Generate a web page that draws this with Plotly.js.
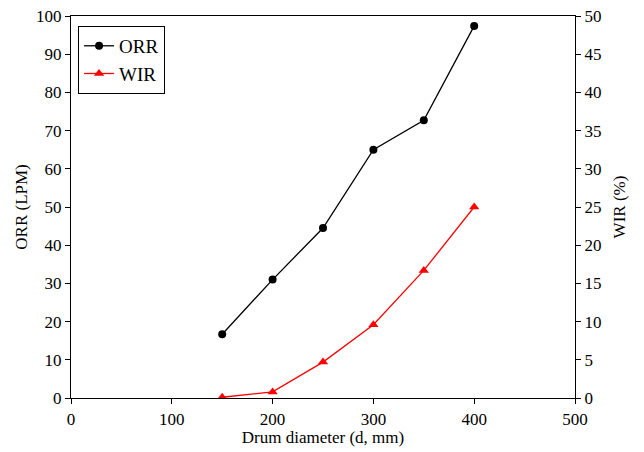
<!DOCTYPE html>
<html><head><meta charset="utf-8">
<script src="https://cdn.plot.ly/plotly-3.0.1.min.js"></script>
<style>html,body{margin:0;padding:0;background:#fff}#c{width:644px;height:452px}</style>
</head><body><div id="c"></div>
<script>
const diameter = [150, 200, 250, 300, 350, 400];
const orr = [16.7, 31.0, 44.5, 65.0, 72.7, 97.4];
const wir = [0.1, 0.8, 4.7, 9.6, 16.7, 25.0];

const font = {family: 'Liberation Serif', size: 17, color: '#000'};
const data = [
  {x: diameter, y: orr, name: 'ORR', mode: 'lines+markers', type: 'scatter',
   line: {color: '#000', width: 1.3}, marker: {symbol: 'circle', size: 8, color: '#000'}},
  {x: diameter, y: wir, name: 'WIR', mode: 'lines+markers', type: 'scatter', yaxis: 'y2',
   line: {color: '#ff0000', width: 1.3}, marker: {symbol: 'triangle-up', size: 9, color: '#ff0000'}}
];
const layout = {
  width: 644, height: 452,
  margin: {l: 71, r: 69, t: 16, b: 54},
  paper_bgcolor: '#fff', plot_bgcolor: '#fff',
  font: font,
  showlegend: true,
  legend: {x: 0.014, y: 0.974, xanchor: 'left', yanchor: 'top', bgcolor: '#fff',
           bordercolor: '#000', borderwidth: 1, itemwidth: 30,
           font: {family: font.family, size: 19, color: '#000'}, tracegroupgap: 0},
  xaxis: {range: [0, 500], dtick: 100, ticks: 'outside', ticklen: 5, tickcolor: '#000',
          showline: true, linecolor: '#000', linewidth: 1.2, mirror: true, showgrid: false, zeroline: false,
          title: {text: 'Drum diameter (d, mm)', font: font, standoff: 2}, tickfont: font},
  yaxis: {range: [0, 100], dtick: 10, ticks: 'outside', ticklen: 5, tickcolor: '#000',
          showline: true, linecolor: '#000', linewidth: 1.2, showgrid: false, zeroline: false,
          title: {text: 'ORR (LPM)', font: font, standoff: 4}, tickfont: font},
  yaxis2: {range: [0, 50], dtick: 5, ticks: 'outside', ticklen: 5, tickcolor: '#000',
           overlaying: 'y', side: 'right', showline: true, linecolor: '#000', linewidth: 1.2,
           showgrid: false, zeroline: false,
           title: {text: 'WIR (%)', font: font, standoff: 12}, tickfont: font}
};
Plotly.newPlot('c', data, layout, {displayModeBar: false});
</script></body></html>
